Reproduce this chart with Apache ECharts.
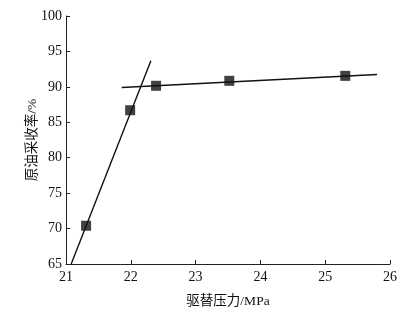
<!DOCTYPE html>
<html><head><meta charset="utf-8">
<script src="https://cdn.jsdelivr.net/npm/echarts@6/dist/echarts.min.js"></script>
<style>html,body{margin:0;padding:0;background:#fff}#c{width:407px;height:315px}</style>
</head><body><div id="c"></div>
<script>
var pressure = [21.31, 21.99, 22.39, 23.52, 25.31];
var recovery = [70.4, 86.7, 90.15, 90.85, 91.55];
var steepLineX = [21.08, 22.31];
var steepLineY = [65.0, 93.7];
var flatLineX = [21.86, 25.80];
var flatLineY = [89.9, 91.75];
var xTicks = [21, 22, 23, 24, 25, 26];
var yTicks = [65, 70, 75, 80, 85, 90, 95, 100];

function pairs(xs, ys){ return xs.map(function(x,i){return [x, ys[i]];}); }
var font = '"Liberation Serif", "Noto Sans CJK SC", serif';
var chart = echarts.init(document.getElementById('c'));
chart.setOption({
  animation: false,
  backgroundColor: '#fff',
  grid: {left: 66, right: 17, top: 16, bottom: 51},
  xAxis: {
    type: 'value', min: 21, max: 26, interval: 1,
    name: '驱替压力/MPa', nameLocation: 'middle', nameGap: 31, nameMoveOverlap: false,
    nameTextStyle: {fontFamily: font, fontSize: 13.5, color: '#111'},
    axisLine: {lineStyle: {color: '#222', width: 1}},
    axisTick: {inside: true, length: 4, lineStyle: {color: '#222'}},
    axisLabel: {fontFamily: font, fontSize: 14, color: '#111', margin: 6},
    splitLine: {show: false}
  },
  yAxis: {
    type: 'value', min: 65, max: 100, interval: 5,
    name: '原油采收率/%', nameLocation: 'middle', nameGap: 27, nameMoveOverlap: false,
    nameTextStyle: {fontFamily: font, fontSize: 13.5, color: '#111'},
    axisLine: {show: true, lineStyle: {color: '#222', width: 1}},
    axisTick: {show: true, inside: true, length: 4, lineStyle: {color: '#222'}},
    axisLabel: {fontFamily: font, fontSize: 14, color: '#111', margin: 4},
    splitLine: {show: false}
  },
  series: [
    {type: 'line', data: pairs(steepLineX, steepLineY), symbol: 'none',
     lineStyle: {color: '#111', width: 1.4}},
    {type: 'line', data: pairs(flatLineX, flatLineY), symbol: 'none',
     lineStyle: {color: '#111', width: 1.4}},
    {type: 'scatter', data: pairs(pressure, recovery), symbol: 'rect', symbolSize: 10,
     itemStyle: {color: '#111'}}
  ]
});
</script></body></html>
